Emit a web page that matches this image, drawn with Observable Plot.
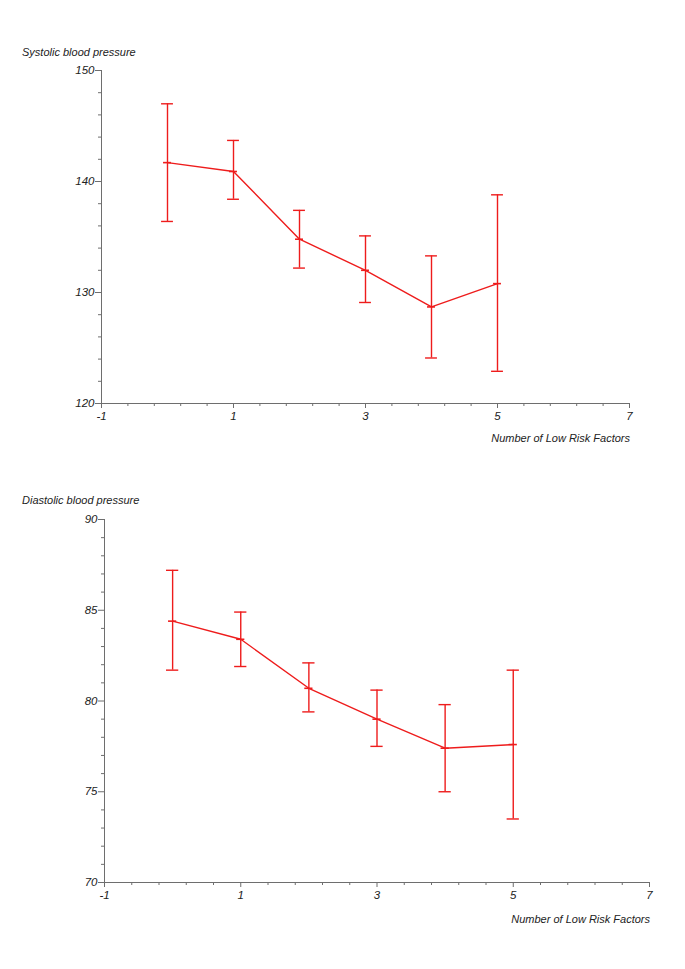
<!DOCTYPE html>
<html>
<head>
<meta charset="utf-8">
<script src="https://cdn.jsdelivr.net/npm/d3@7"></script>
<script src="https://cdn.jsdelivr.net/npm/@observablehq/plot@0.6"></script>
<style>
  html, body { margin: 0; padding: 0; background: #fff; }
  #page { position: relative; width: 685px; height: 969px; font-family: "Liberation Sans", Arial, sans-serif; font-style: italic; color: #222; }
  .lbl { position: absolute; font-size: 11px; line-height: 13px; white-space: nowrap; }
  .chart { position: absolute; left: 0; }
  svg text { font-style: italic; font-size: 11.5px; font-family: "Liberation Sans", Arial, sans-serif; }
</style>
</head>
<body>
<div id="page"></div>
<script>
// ---- data ----
const factors = [0, 1, 2, 3, 4, 5];
const sbpMean = [141.7, 140.9, 134.8, 132.0, 128.7, 130.8];
const sbpLow  = [136.4, 138.4, 132.2, 129.1, 124.1, 122.9];
const sbpHigh = [147.0, 143.7, 137.4, 135.1, 133.3, 138.8];
const dbpMean = [84.4, 83.4, 80.7, 79.0, 77.4, 77.6];
const dbpLow  = [81.7, 81.9, 79.4, 77.5, 75.0, 73.5];
const dbpHigh = [87.2, 84.9, 82.1, 80.6, 79.8, 81.7];
const xMajor = [-1, 1, 3, 5, 7];
const xMinor = [-0.6, -0.2, 0.2, 0.6, 1.4, 1.8, 2.2, 2.6, 3.4, 3.8, 4.2, 4.6, 5.4, 5.8, 6.2, 6.6];
const sbpMajor = [120, 130, 140, 150];
const sbpMinor = [122, 124, 126, 128, 132, 134, 136, 138, 142, 144, 146, 148];
const dbpMajor = [70, 75, 80, 85, 90];
const dbpMinor = [71, 72, 73, 74, 76, 77, 78, 79, 81, 82, 83, 84, 86, 87, 88, 89];
const xTitle = "Number of Low Risk Factors";

const RED = "#ee1c1c";
const AXIS = "#6e6e6e";

function makeChart({mean, low, high, yDomain, yMajor, yMinor, marginLeft, marginRight, marginTop, marginBottom, height}) {
  const rows = factors.map((f, i) => ({x: f, m: mean[i], lo: low[i], hi: high[i]}));
  return Plot.plot({
    width: 685,
    height,
    marginLeft, marginRight, marginTop, marginBottom,
    style: {fontFamily: "Liberation Sans, Arial, sans-serif", fontSize: "11.5px", color: "#222", background: "transparent"},
    x: {domain: [-1, 7]},
    y: {domain: yDomain},
    marks: [
      Plot.ruleX([-1], {y1: yDomain[0], y2: yDomain[1], stroke: AXIS, strokeWidth: 1}),
      Plot.ruleY([yDomain[0]], {x1: -1, x2: 7, stroke: AXIS, strokeWidth: 1}),
      Plot.axisY({ticks: yMajor, tickSize: 6, tickPadding: 1, tickFormat: d => String(d), stroke: AXIS, label: null, fill: "#222"}),
      Plot.axisY({ticks: yMinor, tickSize: 3, tickFormat: () => "", stroke: AXIS, label: null}),
      Plot.axisX({ticks: xMajor, tickSize: 5, tickPadding: 3, tickFormat: d => String(d), stroke: AXIS, label: null, fill: "#222"}),
      Plot.axisX({ticks: xMinor, tickSize: 3, tickFormat: () => "", stroke: AXIS, label: null}),
      Plot.ruleX(rows, {x: "x", y1: "lo", y2: "hi", stroke: RED, strokeWidth: 1.4}),
      Plot.ruleY(rows, {y: "hi", x1: d => d.x - 0.09, x2: d => d.x + 0.09, stroke: RED, strokeWidth: 1.4}),
      Plot.ruleY(rows, {y: "lo", x1: d => d.x - 0.09, x2: d => d.x + 0.09, stroke: RED, strokeWidth: 1.4}),
      Plot.line(rows, {x: "x", y: "m", stroke: RED, strokeWidth: 1.4}),
      Plot.ruleY(rows, {y: "m", x1: d => d.x - 0.06, x2: d => d.x + 0.06, stroke: RED, strokeWidth: 1.6})
    ]
  });
}

const page = document.getElementById("page");
function addLabel(text, left, top, right) {
  const d = document.createElement("div");
  d.className = "lbl";
  d.textContent = text;
  d.style.top = top + "px";
  if (right != null) d.style.right = right + "px"; else d.style.left = left + "px";
  page.appendChild(d);
}

// top chart
const c1 = makeChart({mean: sbpMean, low: sbpLow, high: sbpHigh, yDomain: [120, 150], yMajor: sbpMajor, yMinor: sbpMinor,
  marginLeft: 101, marginRight: 56, marginTop: 70, marginBottom: 27, height: 430});
const w1 = document.createElement("div"); w1.className = "chart"; w1.style.top = "0px"; w1.appendChild(c1); page.appendChild(w1);
addLabel("Systolic blood pressure", 22, 46);
addLabel(xTitle, null, 432, 685 - 630);

// bottom chart
const c2 = makeChart({mean: dbpMean, low: dbpLow, high: dbpHigh, yDomain: [70, 90], yMajor: dbpMajor, yMinor: dbpMinor,
  marginLeft: 104, marginRight: 36, marginTop: 69, marginBottom: 28, height: 460});
const w2 = document.createElement("div"); w2.className = "chart"; w2.style.top = "450px"; w2.appendChild(c2); page.appendChild(w2);
addLabel("Diastolic blood pressure", 22, 494);
addLabel(xTitle, null, 913, 685 - 650);
</script>
</body>
</html>
